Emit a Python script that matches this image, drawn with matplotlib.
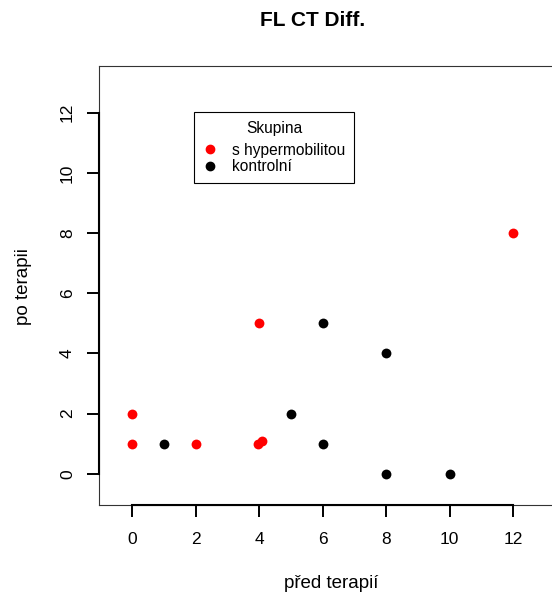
import matplotlib
matplotlib.use("Agg")
import matplotlib.pyplot as plt
from matplotlib.lines import Line2D

plt.rcParams['font.family'] = ['Liberation Sans', 'DejaVu Sans']

# data
hyper_x = [0, 0, 2, 4, 3.96, 4.1, 12]
hyper_y = [2, 1, 1, 5, 1.0, 1.1, 8]
ctrl_x = [1, 5, 6, 6, 8, 8, 10]
ctrl_y = [1, 2, 5, 1, 4, 0, 0]
ticks = [0, 2, 4, 6, 8, 10, 12]
group_labels = ['s hypermobilitou', 'kontrolní']
group_colors = ['red', 'black']

fig = plt.figure(figsize=(5.52, 5.94), dpi=100, facecolor='white')
ax = fig.add_axes([0.180, 0.150, 0.836, 0.739])

ax.scatter(hyper_x, hyper_y, s=50, color=group_colors[0], zorder=3, linewidths=0)
ax.scatter(ctrl_x, ctrl_y, s=50, color=group_colors[1], zorder=3, linewidths=0)

xlo, ylo = -1.04, -1.03
ax.set_xlim(xlo, 13.5)
ax.set_ylim(ylo, 13.55)
ax.set_xticks(ticks)
ax.set_yticks(ticks)
ax.set_xticklabels([str(t) for t in ticks])
ax.set_yticklabels([str(t) for t in ticks], rotation=90, va='center')
ax.tick_params(direction='out', length=8.5, width=1.4, labelsize=12.5, pad=9)
ax.tick_params(axis='x', pad=11)
for s in ax.spines.values():
    s.set_linewidth(0.8)
    s.set_color('#333333')

# R style axis lines between first and last tick
ax.plot([ticks[0], ticks[-1]], [ylo, ylo], color='black', lw=1.5, clip_on=False, zorder=4)
ax.plot([xlo, xlo], [ticks[0], ticks[-1]], color='black', lw=1.5, clip_on=False, zorder=4)

fig.text(313 / 552, 1 - 21 / 594, 'FL CT Diff.', ha='center', va='center', fontsize=15, fontweight='bold')
fig.text(331 / 552, 1 - 584 / 594, 'před terapií', ha='center', va='center', fontsize=13.5)
fig.text(23 / 552, 1 - 287 / 594, 'po terapii', ha='center', va='center', fontsize=13.5, rotation=90)

handles = [Line2D([], [], marker='o', ls='', color=c, markersize=6) for c in group_colors]
leg = ax.legend(handles, group_labels, title='Skupina', loc='upper left',
                bbox_to_anchor=(0.205, 0.895), fontsize=11.2, title_fontsize=11.2,
                frameon=True, fancybox=False, edgecolor='black', framealpha=1,
                handletextpad=0.9, borderpad=0.55, labelspacing=0.12, handlelength=1.0,
                borderaxespad=0)
leg.get_frame().set_linewidth(0.8)
leg._legend_box.sep = 5

fig.savefig('out.png', dpi=100, facecolor='white')
